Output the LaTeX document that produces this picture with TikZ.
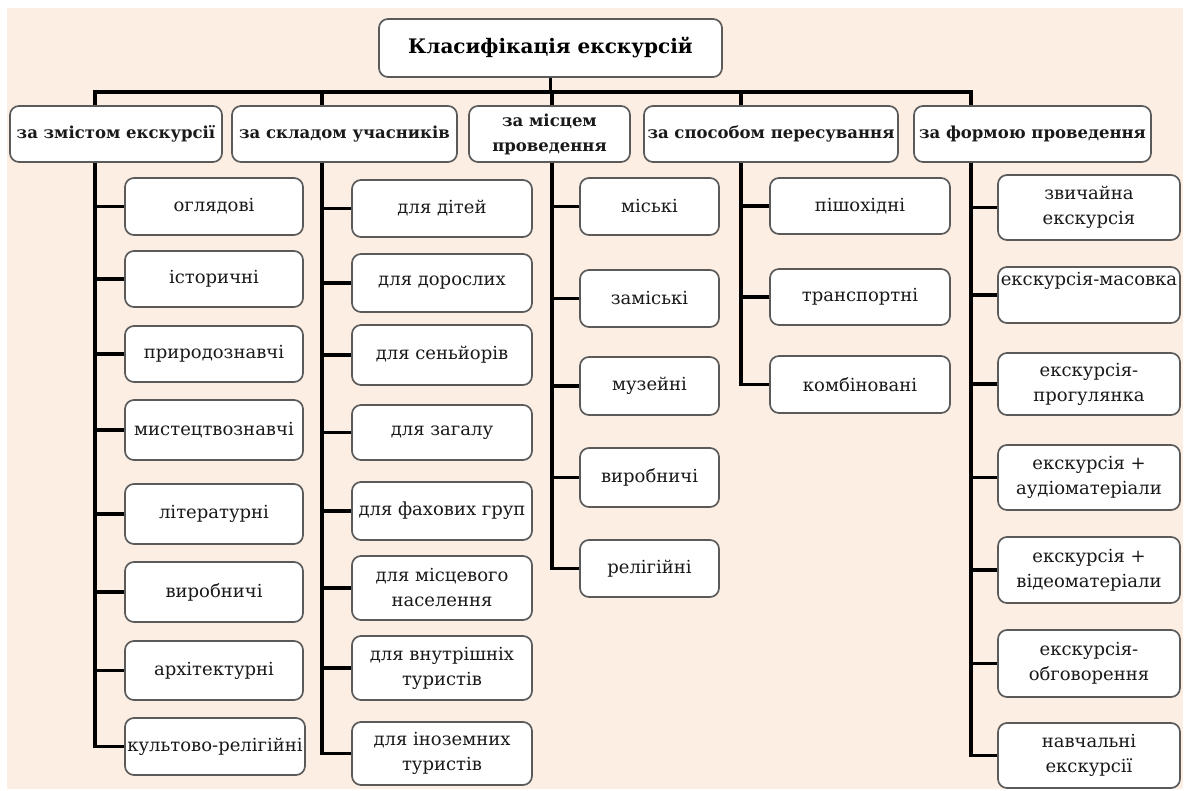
\documentclass[tikz,border=0pt]{standalone}
\usepackage{fontspec}
\setmainfont{DejaVu Serif}
\definecolor{beige}{RGB}{252,238,227}
\definecolor{boxline}{RGB}{90,90,90}
\definecolor{txt}{RGB}{25,25,25}
\pgfdeclarelayer{back}
\pgfdeclarelayer{bg}
\pgfsetlayers{back,bg,main}
\tikzset{
  basebox/.style={draw=boxline, line width=1.7pt, fill=white, rounded corners=9pt,
    align=center, inner sep=1pt, text=txt},
  childbox/.style={basebox, font=\fontsize{18}{25}\selectfont},
  headbox/.style={basebox, font=\bfseries\fontsize{16.5}{25}\selectfont},
  titlebox/.style={basebox, font=\bfseries\fontsize{20}{24}\selectfont, text=black},
  conn/.style={line width=3.5pt, black, line cap=rect},
}
\newcommand{\mkbox}[6]{\node[#1, minimum width={(#4-#2)*1pt}, minimum height={(#5-#3)*1pt}] (#6) at ({(#2+#4)/2},{(#3+#5)/2})}
\begin{document}
\begin{tikzpicture}[x=1pt,y=-1pt]
\useasboundingbox (0,0) rectangle (1190,791);
\begin{pgfonlayer}{back}
\fill[white] (0,0) rectangle (1190,791);
\fill[beige] (7,8) rectangle (1183,789);
\end{pgfonlayer}

% title
\mkbox{titlebox}{379}{19}{722}{77}{t} {Класифікація екскурсій};

% headers
\mkbox{headbox}{10}{106}{222}{162}{h1} {за змістом екскурсії};
\mkbox{headbox}{232}{106}{457}{162}{h2} {за складом учасників};
\mkbox{headbox}{469}{106}{630}{162}{h3} {за місцем\\проведення};
\mkbox{headbox}{644}{106}{898}{162}{h4} {за способом пересування};
\mkbox{headbox}{914}{106}{1151}{162}{h5} {за формою проведення};

% column 1
\mkbox{childbox}{125}{178}{303}{235}{a1} {оглядові};
\mkbox{childbox}{125}{251}{303}{307}{a2} {історичні};
\mkbox{childbox}{125}{326}{303}{382}{a3} {природознавчі};
\mkbox{childbox}{125}{400}{303}{460}{a4} {мистецтвознавчі};
\mkbox{childbox}{125}{484}{303}{544}{a5} {літературні};
\mkbox{childbox}{125}{562}{303}{622}{a6} {виробничі};
\mkbox{childbox}{125}{641}{303}{700}{a7} {архітектурні};
\mkbox{childbox}{125}{718}{305}{775}{a8} {культово-релігійні};

% column 2
\mkbox{childbox}{352}{180}{532}{237}{b1} {для дітей};
\mkbox{childbox}{352}{254}{532}{312}{b2} {для дорослих};
\mkbox{childbox}{352}{325}{532}{385}{b3} {для сеньйорів};
\mkbox{childbox}{352}{405}{532}{460}{b4} {для загалу};
\mkbox{childbox}{352}{482}{532}{540}{b5} {для фахових груп};
\mkbox{childbox}{352}{556}{532}{620}{b6} {для місцевого\\населення};
\mkbox{childbox}{352}{636}{532}{700}{b7} {для внутрішніх\\туристів};
\mkbox{childbox}{352}{722}{532}{785}{b8} {для іноземних\\туристів};

% column 3
\mkbox{childbox}{580}{178}{719}{235}{c1} {міські};
\mkbox{childbox}{580}{270}{719}{327}{c2} {заміські};
\mkbox{childbox}{580}{357}{719}{415}{c3} {музейні};
\mkbox{childbox}{580}{448}{719}{507}{c4} {виробничі};
\mkbox{childbox}{580}{540}{719}{597}{c5} {релігійні};

% column 4
\mkbox{childbox}{770}{178}{950}{234}{d1} {пішохідні};
\mkbox{childbox}{770}{269}{950}{325}{d2} {транспортні};
\mkbox{childbox}{770}{356}{950}{413}{d3} {комбіновані};

% column 5
\mkbox{childbox}{998}{175}{1180}{240}{e1} {звичайна\\екскурсія};
\mkbox{childbox}{998}{267}{1180}{323}{e2} {екскурсія-масовка\\\strut};
\mkbox{childbox}{998}{353}{1180}{415}{e3} {екскурсія-\\прогулянка};
\mkbox{childbox}{998}{445}{1180}{510}{e4} {екскурсія +\\аудіоматеріали};
\mkbox{childbox}{998}{537}{1180}{603}{e5} {екскурсія +\\відеоматеріали};
\mkbox{childbox}{998}{630}{1180}{697}{e6} {екскурсія-\\обговорення};
\mkbox{childbox}{998}{723}{1180}{788}{e7} {навчальні\\екскурсії};

\coordinate (s1) at (95,92);
\coordinate (s2) at (322,92);
\coordinate (s3) at (552,92);
\coordinate (s4) at (741,92);
\coordinate (s5) at (971,92);

\begin{pgfonlayer}{bg}
  \draw[conn] (t.south) -- (t.south |- s1);
  \draw[conn] (s1) -- (s5);
  \draw[conn] (s1) -- (s1 |- a8);
  \draw[conn] (s2) -- (s2 |- b8);
  \draw[conn] (s3) -- (s3 |- c5);
  \draw[conn] (s4) -- (s4 |- d3);
  \draw[conn] (s5) -- (s5 |- e7);
  \foreach \n in {a1,a2,a3,a4,a5,a6,a7,a8} \draw[conn] (s1 |- \n) -- (\n.west);
  \foreach \n in {b1,b2,b3,b4,b5,b6,b7,b8} \draw[conn] (s2 |- \n) -- (\n.west);
  \foreach \n in {c1,c2,c3,c4,c5} \draw[conn] (s3 |- \n) -- (\n.west);
  \foreach \n in {d1,d2,d3} \draw[conn] (s4 |- \n) -- (\n.west);
  \foreach \n in {e1,e2,e3,e4,e5,e6,e7} \draw[conn] (s5 |- \n) -- (\n.west);
\end{pgfonlayer}
\end{tikzpicture}
\end{document}
